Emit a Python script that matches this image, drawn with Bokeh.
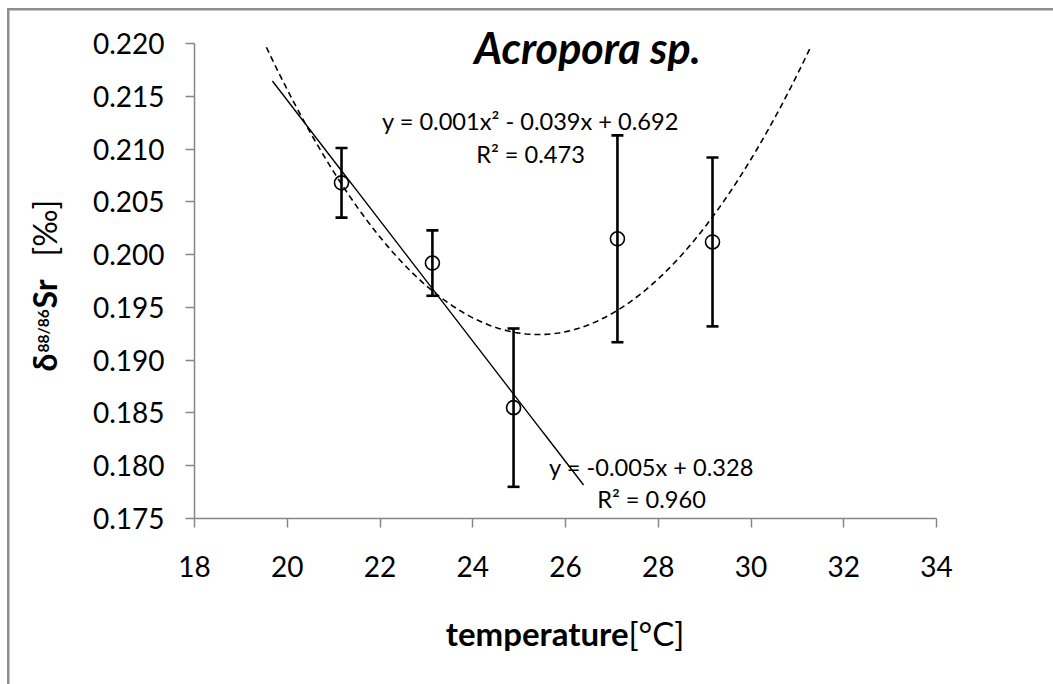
import numpy as np
from bokeh.plotting import figure
from bokeh.models import (ColumnDataSource, Whisker, TeeHead, Label, FixedTicker,
                          PrintfTickFormatter, Range1d)
from bokeh.embed import file_html
from bokeh.resources import INLINE

# ---- data ----
temperature = [21.17, 23.13, 24.88, 27.12, 29.17]
delta_sr = [0.2068, 0.1992, 0.1855, 0.2015, 0.2012]
sr_err = [0.0033, 0.0031, 0.0075, 0.0098, 0.0080]
x_ticks = [18, 20, 22, 24, 26, 28, 30, 32, 34]
y_ticks = [0.175, 0.180, 0.185, 0.190, 0.195, 0.200, 0.205, 0.210, 0.215, 0.220]
title_text = "Acropora sp."
lin_eq = ["y = -0.005x + 0.328", "R² = 0.960"]
quad_eq = ["y = 0.001x² - 0.039x + 0.692", "R² = 0.473"]
lin_span = [19.68, 26.39]
quad_span = [19.55, 31.28]
x_title = ["temperature", "[°C]"]
y_title = ["δ", "88/86", "Sr", "[‰]"]

FONT = "Lato"
W, H = 1053, 684
X0, X1 = 18, 34          # plot-area x limits
Y0, Y1 = 0.175, 0.220    # plot-area y limits
PL, PR, PT, PB = 194, 936, 43, 518   # plot-area edges on the canvas (pixels)
kx = (X1 - X0) / (PR - PL)
ky = (Y1 - Y0) / (PB - PT)

# the frame covers the whole canvas; axes are pinned to the plot-area edges
p = figure(frame_width=W, frame_height=H, min_border=0, output_backend="svg",
           toolbar_location=None,
           x_range=Range1d(X0 - PL * kx, X1 + (W - PR) * kx),
           y_range=Range1d(Y0 - (H - PB) * ky, Y1 + PT * ky))
p.outline_line_color = None
p.xgrid.visible = False
p.ygrid.visible = False
p.background_fill_alpha = 0
p.border_fill_alpha = 0
p.styles = {
    "background": "linear-gradient(#8e8e8e, #8e8e8e) 7px 8px / 2.5px 100% no-repeat, "
                  "linear-gradient(#8e8e8e, #8e8e8e) 7px 8px / 100% 2.5px no-repeat, white"
}

axis_col = "#868686"
for ax in (p.xaxis[0], p.yaxis[0]):
    ax.axis_line_color = axis_col
    ax.axis_line_width = 1.5
    ax.major_tick_line_color = axis_col
    ax.major_tick_line_width = 1.5
    ax.major_tick_out = 9
    ax.major_tick_in = 0
    ax.minor_tick_line_color = None
    ax.major_label_text_font = FONT
    ax.major_label_text_font_size = "28px"
    ax.major_label_text_color = "black"
p.xaxis.fixed_location = Y0
p.yaxis.fixed_location = X0
p.xaxis.bounds = (X0, X1)
p.yaxis.bounds = (Y0, Y1)
p.xaxis.ticker = FixedTicker(ticks=x_ticks)
p.yaxis.ticker = FixedTicker(ticks=y_ticks)
p.yaxis.formatter = PrintfTickFormatter(format="%.3f")
p.yaxis.major_label_standoff = 21
p.xaxis.major_label_standoff = 28

# trend lines (least-squares fits of the data, as the spreadsheet did)
lin_c = np.polyfit(temperature[:3], delta_sr[:3], 1)
quad_c = np.polyfit(temperature, delta_sr, 2)
xl = np.linspace(lin_span[0], lin_span[1], 50)
xq = np.linspace(quad_span[0], quad_span[1], 200)
p.line(xl, np.polyval(lin_c, xl), line_color="black", line_width=1.4)
p.line(xq, np.polyval(quad_c, xq), line_color="black", line_width=1.6, line_dash="6 4")

src = ColumnDataSource(dict(
    x=temperature, y=delta_sr,
    upper=[v + e for v, e in zip(delta_sr, sr_err)],
    lower=[v - e for v, e in zip(delta_sr, sr_err)]))
wh = Whisker(source=src, base="x", upper="upper", lower="lower",
             line_color="black", line_width=2.6,
             upper_head=TeeHead(size=12, line_width=2.6, line_color="black"),
             lower_head=TeeHead(size=12, line_width=2.6, line_color="black"))
p.add_layout(wh)
p.scatter("x", "y", source=src, marker="circle", size=14, fill_color=None,
          line_color="black", line_width=1.6)


def label(text, px, py, size, style="normal", align="left", angle=0.0):
    # (px, py): canvas pixel of the anchor; py is the bottom of the text box
    p.add_layout(Label(x=px, y=H - py, x_units="screen", y_units="screen",
                       text=text, text_font=FONT, text_font_size=f"{size}px",
                       text_font_style=style, text_align=align,
                       text_baseline="bottom", text_color="black", angle=angle))


# title
label(title_text, 587, 72, 43, "bold italic", "center")

# equations
label(quad_eq[0], 530, 134, 23.6, align="center")
label(quad_eq[1], 530, 167, 23.6, align="center")
label(lin_eq[0], 651, 480, 23.6, align="center")
label(lin_eq[1], 651, 512, 23.6, align="center")

# x axis title
label(x_title[0], 628, 652, 33, "bold", "right")
label(x_title[1], 628, 652, 33, "normal", "left")

# y axis title (rotated pieces, reading upward)
ang = np.pi / 2
label(y_title[0], 63, 371, 32, "bold", "left", ang)
label(y_title[1], 51, 352, 15.5, "bold", "left", ang)
label(y_title[2], 63, 308, 32, "bold", "left", ang)
label(y_title[3], 63, 256, 32, "normal", "left", ang)

open("out.html", "w").write(file_html(p, INLINE))
